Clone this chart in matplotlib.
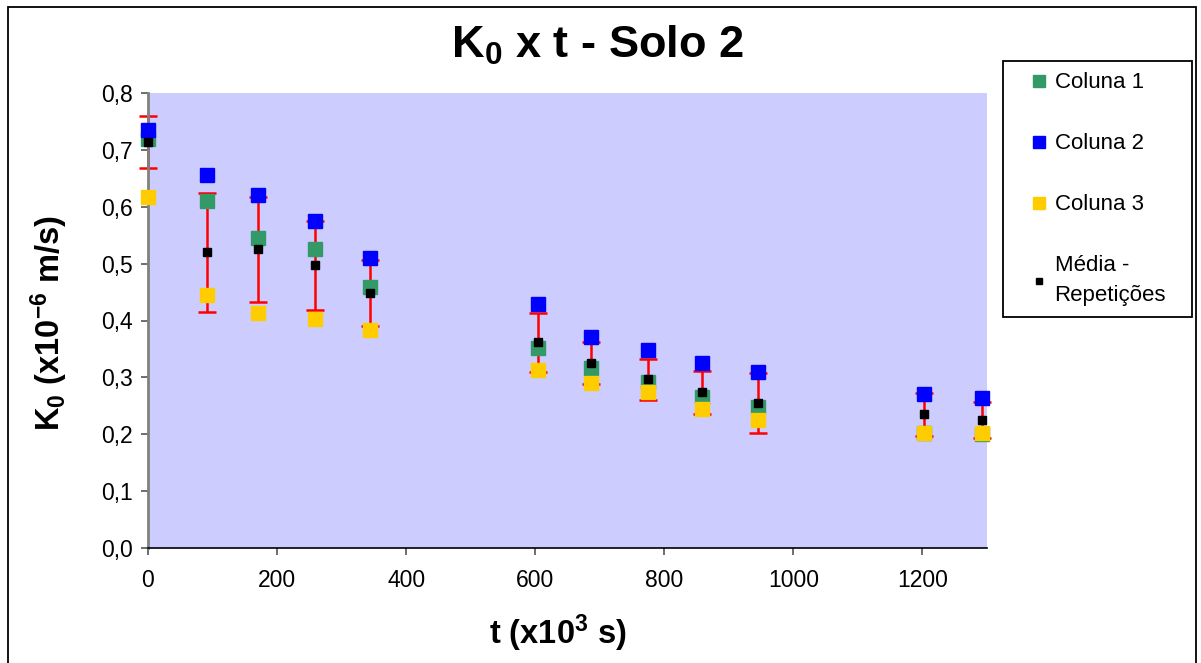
import matplotlib
matplotlib.use("Agg")
import matplotlib.pyplot as plt
from matplotlib.lines import Line2D
from matplotlib.patches import Rectangle

plt.rcParams['font.family'] = ['Liberation Sans', 'DejaVu Sans']
plt.rcParams['mathtext.fontset'] = 'custom'
plt.rcParams['mathtext.rm'] = 'Liberation Sans:bold'
plt.rcParams['mathtext.bf'] = 'Liberation Sans:bold'
plt.rcParams['mathtext.it'] = 'Liberation Sans:bold'
plt.rcParams['mathtext.default'] = 'bf'

# data (t in 10^3 s, K0 in 10^-6 m/s)
t = [0, 92, 170, 259, 344, 604, 687, 774, 859, 945, 1202, 1293]
coluna1 = [0.720, 0.610, 0.545, 0.525, 0.459, 0.351, 0.316, 0.292, 0.265, 0.248, 0.203, 0.201]
coluna2 = [0.735, 0.656, 0.620, 0.575, 0.510, 0.429, 0.371, 0.348, 0.325, 0.309, 0.270, 0.263]
coluna3 = [0.617, 0.445, 0.413, 0.402, 0.383, 0.313, 0.290, 0.274, 0.244, 0.225, 0.202, 0.202]
media = [0.714, 0.520, 0.525, 0.497, 0.448, 0.362, 0.325, 0.297, 0.274, 0.255, 0.235, 0.225]
desvio = [0.046, 0.105, 0.093, 0.078, 0.058, 0.052, 0.037, 0.036, 0.038, 0.053, 0.038, 0.032]

labels = ['Coluna 1', 'Coluna 2', 'Coluna 3', 'Média -\nRepetições']
cores = ['#339966', '#0000ff', '#ffcc00', '#000000']

fig = plt.figure(figsize=(12.01, 6.63), dpi=100)
ax = fig.add_axes([148/1201, 1 - 548/663, 839/1201, 455/663])
ax.set_facecolor('#ccccff')

# error bars of the mean go under the markers
ax.errorbar(t, media, yerr=desvio, fmt='none', ecolor='#ff0000',
            elinewidth=1.8, capsize=6.5, capthick=1.8, zorder=2, clip_on=False)

series = [coluna1, coluna2, coluna3, media]
for i, (ys, c) in enumerate(zip(series, cores)):
    ms = 6 if i == 3 else 9.5
    ax.plot(t, ys, 's', color=c, mec=c, ms=ms, zorder=3 + i, clip_on=False)

ax.set_xlim(0, 1300)
ax.set_ylim(0, 0.8)
ax.set_xticks(range(0, 1201, 200))
yt = [i / 10 for i in range(9)]
ax.set_yticks(yt)
ax.set_yticklabels([f"{v:.1f}".replace('.', ',') for v in yt])
ax.tick_params(axis='both', labelsize=16.5, direction='out', length=5, width=1.2,
               color='#555555')
ax.tick_params(axis='y', pad=6)
ax.tick_params(axis='x', pad=10)

for s in ['top', 'right']:
    ax.spines[s].set_visible(False)
ax.spines['left'].set_color('#808080')
ax.spines['left'].set_linewidth(2)
ax.spines['bottom'].set_color('black')
ax.spines['bottom'].set_linewidth(1.2)

ax.set_xlabel('t (x10$^3$ s)', fontsize=23.5, fontweight='bold')
ax.xaxis.set_label_coords(0.489, -0.142)
ax.set_ylabel('K$_0$ (x10$^{-6}$ m/s)', fontsize=23.5, fontweight='bold')
ax.yaxis.set_label_coords(-0.093, 0.495)

fig.text(597/1201, 1 - 45/663, 'K$_0$ x t - Solo 2', fontsize=32.5,
         fontweight='bold', ha='center', va='center')

handles = []
for i, c in enumerate(cores):
    ms = 5 if i == 3 else 8
    handles.append(Line2D([], [], ls='none', marker='s', color=c, mec=c, ms=ms))
leg = fig.legend(handles, labels, loc='upper left',
                 bbox_to_anchor=(1003/1201, 1 - 62/663, 189/1201, 0.001),
                 mode='expand', borderaxespad=0, fontsize=16, frameon=True,
                 fancybox=False, edgecolor='black', framealpha=1,
                 labelspacing=1.8, borderpad=0.5, handlelength=2.2,
                 handletextpad=-0.38)
leg.get_frame().set_linewidth(1.3)
for txt in leg.get_texts():
    txt.set_linespacing(1.55)

# outer chart border
fig.patches.append(Rectangle((8/1201, -0.01), 1188/1201, 1 - 7/663 + 0.01,
                             transform=fig.transFigure, fill=False,
                             edgecolor='black', linewidth=1.3))

fig.savefig('out.png', dpi=100)
